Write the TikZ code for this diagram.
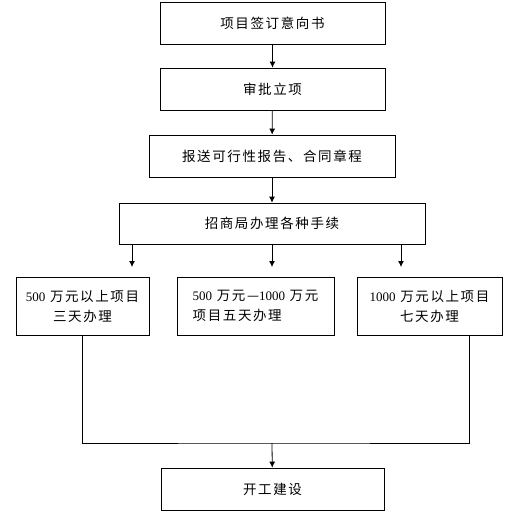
\documentclass[tikz,border=0pt]{standalone}
\usepackage{fontspec}
\setmainfont{Liberation Serif}
\newfontfamily\cjk[LetterSpace=12]{Noto Sans CJK SC}
\usetikzlibrary{arrows.meta}
\newcommand\dg[1]{{\rmfamily\fontsize{13}{20}\selectfont #1}}

\tikzset{
  stepbox/.style={draw=black, fill=white, line width=0.8pt, inner sep=2pt,
                  font=\fontsize{13.5}{20}\selectfont\cjk},
  flow/.style={draw=black, line width=0.8pt, -{Latex[length=6pt,width=6pt]}}
}

\begin{document}
\begin{tikzpicture}[x=1pt, y=-1pt]
    \useasboundingbox (0,0) rectangle (508,514);
    % main column
    \node[stepbox, minimum width=225pt, minimum height=42pt] (sign) at (272.5,23) {项目签订意向书};
    \node[stepbox, minimum width=225pt, minimum height=42pt] (approve) at (272.5,89) {审批立项};
    \node[stepbox, minimum width=246pt, minimum height=42pt] (report) at (272,156) {报送可行性报告、合同章程};
    \node[stepbox, minimum width=306pt, minimum height=41pt] (bureau) at (272,223.5) {招商局办理各种手续};
    % three branches
    \node[stepbox, minimum width=133pt, minimum height=58pt, align=center] (small) at (82.5,306)
        {\dg{500} 万元以上项目\\三天办理};
    \node[stepbox, minimum width=157pt, minimum height=58pt, align=left] (mid) at (255.5,306)
        {\dg{500} 万元—\dg{1000} 万元\\项目五天办理};
    \node[stepbox, minimum width=145pt, minimum height=58pt, align=center] (large) at (429.5,306)
        {\dg{1000} 万元以上项目\\七天办理};
    \node[stepbox, minimum width=223pt, minimum height=42pt] (build) at (272.5,489) {开工建设};
    \coordinate (join) at (272,443);
    \draw[flow] (sign) -- (approve);
    \draw[flow] (approve) -- (report);
    \draw[flow] (report) -- (bureau);
    \draw[flow] (bureau.south -| 132,0) -- (132,267);
    \draw[flow] (bureau) -- (272,267);
    \draw[flow] (bureau.south -| 401,0) -- (401,267);
    \draw[line width=0.8pt] (small.south -| 82,0) |- (join) -| (large.south -| 469,0);
    \draw[flow] (join) -- (build);
\end{tikzpicture}
\end{document}
